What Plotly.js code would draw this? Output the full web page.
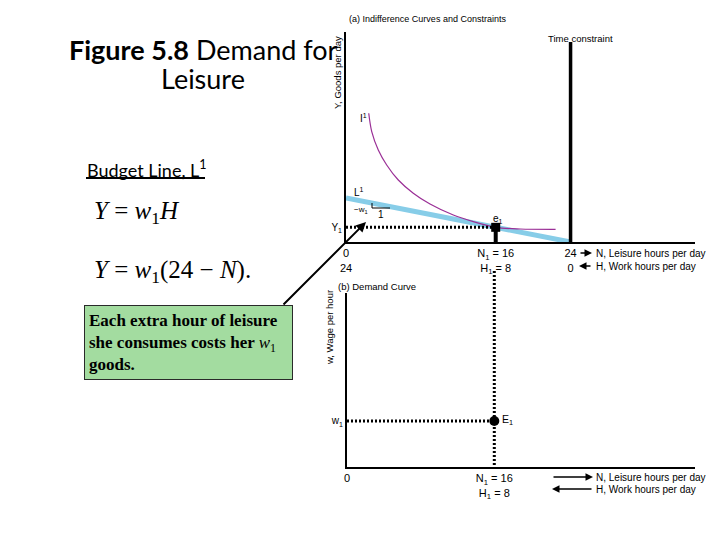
<!DOCTYPE html>
<html>
<head>
<meta charset="utf-8">
<script src="https://cdn.plot.ly/plotly-3.0.1.min.js"></script>
<style>html,body{margin:0;padding:0;background:#fff;}#chart{width:720px;height:540px;}</style>
</head>
<body>
<div id="chart"></div>
<script>
// ---- data ----
var wage1 = 1;                 // w1 (goods per hour)
var leisure1 = 16;             // N1
var work1 = 8;                 // H1
var goods1 = 8;                // Y1 = w1 * H1
var timeTotal = 24;            // hours per day
var budgetN = [0, 24];
var budgetY = [24, 0];
var icN = [2.43, 2.75, 3.45, 4.35, 5.59, 7.19, 8.98, 11.47, 13.6, 16, 18.6, 22.4];
var icY = [70.2, 60.2, 50.2, 42.0, 33.8, 26.6, 20.7, 14.7, 11.1, 8.0, 7.1, 6.9];
var timeConstraintY = [0, 109];
var xTickValsA = [0, 16, 24];
var xTickTextA = ["0<br>24", "N<sub>1</sub> = 16<br>H<sub>1</sub> = 8", "24<br>0"];
var yTickValsA = [8];
var yTickTextA = ["Y<sub>1</sub>"];
var xTickValsB = [0, 16];
var xTickTextB = ["0", "N<sub>1</sub> = 16<br>H<sub>1</sub> = 8"];
var yTickValsB = [1];
var yTickTextB = ["w<sub>1</sub>"];

function px(x){ return x/720; }
function py(y){ return 1 - y/540; }

var SANS = "Liberation Sans, Arial, sans-serif";
var SERIF = "Liberation Serif, Times New Roman, serif";
var TITLEF = "Lato, Noto Sans, sans-serif";

var traces = [
  {x: budgetN, y: budgetY, xaxis:'x', yaxis:'y', mode:'lines', line:{color:'#87cde8', width:5}, hoverinfo:'skip'},
  {x: icN, y: icY, xaxis:'x', yaxis:'y', mode:'lines', line:{color:'#9a2f96', width:1.2, shape:'spline', smoothing:0.9}, hoverinfo:'skip'},
  {x: [timeTotal, timeTotal], y: timeConstraintY, xaxis:'x', yaxis:'y', mode:'lines', line:{color:'#000', width:3.5}, hoverinfo:'skip'},
  {x: [0, leisure1], y: [goods1, goods1], xaxis:'x', yaxis:'y', mode:'lines', line:{color:'#000', width:3, dash:'2px,2px'}, hoverinfo:'skip'},
  {x: [leisure1, leisure1], y: [goods1, 0], xaxis:'x', yaxis:'y', mode:'lines', line:{color:'#000', width:4}, hoverinfo:'skip'},
  {x: [leisure1], y: [goods1], xaxis:'x', yaxis:'y', mode:'markers', marker:{symbol:'square', size:9, color:'#000'}, hoverinfo:'skip'},
  {x: [0, leisure1], y: [wage1, wage1], xaxis:'x2', yaxis:'y2', mode:'lines', line:{color:'#000', width:3, dash:'2px,2px'}, hoverinfo:'skip'},
  {x: [leisure1], y: [wage1], xaxis:'x2', yaxis:'y2', mode:'markers', marker:{symbol:'circle', size:10, color:'#000'}, hoverinfo:'skip'}
];

var axBase = {showgrid:false, zeroline:false, showline:true, linecolor:'#000', linewidth:2, ticks:'', tickmode:'array', tickfont:{family:SANS, size:11, color:'#000'}, fixedrange:true};

function ann(text, x, y, opts){
  var a = {text:text, x:x, y:y, xref:'paper', yref:'paper', showarrow:false, xanchor:'left', yanchor:'middle', font:{family:SANS, size:10, color:'#000'}};
  for (var k in opts) a[k] = opts[k];
  return a;
}
function arrow(hx, hy, tx, ty, w){
  return {text:'', x:px(hx), y:py(hy), xref:'paper', yref:'paper', ax:tx-hx, ay:ty-hy, axref:'pixel', ayref:'pixel', showarrow:true, arrowhead:2, arrowsize:1, arrowwidth:w||1.5, arrowcolor:'#000', standoff:0, startstandoff:0};
}

var annotations = [
  // left side text
  ann("<b>Figure 5.8</b> Demand for", px(203), py(49), {xanchor:'center', font:{family:TITLEF, size:27, color:'#000'}}),
  ann("Leisure", px(203), py(79), {xanchor:'center', font:{family:TITLEF, size:27, color:'#000'}}),
  ann("Budget Line, L<sup>1</sup>", px(85), py(169), {font:{family:TITLEF, size:18, color:'#000'}}),
  ann("<i>Y</i> = <i>w</i><sub>1</sub><i>H</i>", px(92), py(213), {font:{family:SERIF, size:25, color:'#000'}}),
  ann("<i>Y</i> = <i>w</i><sub>1</sub>(24 − <i>N</i>).", px(92), py(271), {font:{family:SERIF, size:25, color:'#000'}}),
  ann("<b>Each extra hour of leisure<br>she consumes costs her </b><i>w</i><sub>1</sub><b><br>goods.</b>", px(188.5), py(342.5),
      {xanchor:'center', align:'left', width:199, height:65, borderpad:4, bgcolor:'#a3dca0', bordercolor:'#2a2a2a', borderwidth:1,
       font:{family:SERIF, size:17, color:'#000'}}),
  arrow(366, 222, 282, 306, 2),
  // panel (a)
  ann("(a) Indifference Curves and Constraints", px(347), py(19), {font:{family:SANS, size:9, color:'#000'}}),
  ann("Y, Goods per day", px(337), py(73), {xanchor:'center', textangle:-90, font:{family:SANS, size:9.5, color:'#000'}}),
  ann("Time constraint", px(580), py(38), {xanchor:'center', font:{family:SANS, size:9.5, color:'#000'}}),
  ann("I<sup>1</sup>", px(358), py(118), {}),
  ann("L<sup>1</sup>", px(352), py(192), {}),
  ann("e<sub>1</sub>", px(491), py(219), {}),
  ann("−w<sub>1</sub>", px(352), py(210), {font:{family:SANS, size:8, color:'#000'}}),
  ann("1", px(376), py(214), {}),
  ann("N, Leisure hours per day", px(594), py(253), {}),
  ann("H, Work hours per day", px(594), py(266), {}),
  arrow(592, 253, 579, 253, 1.5),
  arrow(579, 266, 592, 266, 1.5),
  // panel (b)
  ann("(b) Demand Curve", px(336), py(286), {font:{family:SANS, size:9.5, color:'#000'}}),
  ann("w, Wage per hour", px(329), py(328), {xanchor:'center', textangle:-90, font:{family:SANS, size:9.5, color:'#000'}}),
  ann("E<sub>1</sub>", px(500), py(420), {font:{family:SANS, size:10.5, color:'#000'}}),
  ann("N, Leisure hours per day", px(594), py(477), {}),
  ann("H, Work hours per day", px(594), py(489), {}),
  arrow(593, 477, 552, 477, 1.5),
  arrow(552, 489, 593, 489, 1.5)
];

var shapes = [
  {type:'line', xref:'paper', yref:'paper', x0:px(86), x1:px(205), y0:py(178), y1:py(178), line:{color:'#000', width:2}},
  {type:'line', xref:'paper', yref:'paper', x0:px(372), x1:px(372), y0:py(203), y1:py(208), line:{color:'#000', width:1}},
  {type:'line', xref:'paper', yref:'paper', x0:px(372), x1:px(390), y0:py(208), y1:py(208), line:{color:'#000', width:1}},
  {type:'line', xref:'x2', yref:'paper', x0:leisure1, x1:leisure1, y0:py(271), y1:py(467), line:{color:'#000', width:3, dash:'2px,2px'}}
];

var layout = {
  width:720, height:540,
  margin:{l:0, r:0, t:0, b:0},
  paper_bgcolor:'#fff', plot_bgcolor:'rgba(0,0,0,0)',
  showlegend:false,
  xaxis: Object.assign({}, axBase, {domain:[px(346), px(695)], range:[0, 37.3], anchor:'y', tickvals:xTickValsA, ticktext:xTickTextA}),
  yaxis: Object.assign({}, axBase, {domain:[py(242), py(32)], range:[0, 114.5], anchor:'x', tickvals:yTickValsA, ticktext:yTickTextA, tickfont:{family:SANS, size:10, color:'#000'}}),
  xaxis2: Object.assign({}, axBase, {domain:[px(347), px(695)], range:[0, 37.8], anchor:'y2', tickvals:xTickValsB, ticktext:xTickTextB}),
  yaxis2: Object.assign({}, axBase, {domain:[py(467), py(293)], range:[0, 3.78], anchor:'x2', tickvals:yTickValsB, ticktext:yTickTextB, tickfont:{family:SANS, size:10, color:'#000'}}),
  annotations: annotations,
  shapes: shapes
};

Plotly.newPlot('chart', traces, layout, {displayModeBar:false});
</script>
</body>
</html>
